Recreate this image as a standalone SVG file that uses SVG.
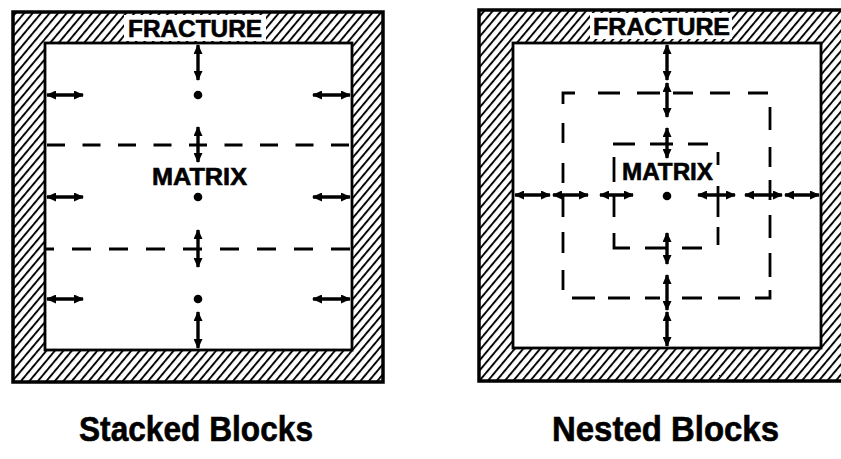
<svg xmlns="http://www.w3.org/2000/svg" width="841" height="459" viewBox="0 0 841 459">
<style>
.t{font-family:"Liberation Sans",Arial,Helvetica,sans-serif;font-weight:bold;fill:#000;stroke:#000;stroke-width:0.6;text-anchor:middle}
.outer{fill:url(#hatch);stroke:#000;stroke-width:3.5}
.inner{fill:#fff;stroke:#000;stroke-width:2.8}
.dash{fill:none;stroke:#000;stroke-width:2.8}
.arr{fill:none;stroke:#000;stroke-width:3.4;marker-start:url(#ah);marker-end:url(#ah)}
.dot{fill:#000}
</style>
<defs>
<pattern id="hatch" width="6.5" height="6.5" patternUnits="userSpaceOnUse" patternTransform="rotate(40)">
<line x1="1" y1="0" x2="1" y2="6.5" stroke="#000" stroke-width="1.9"/>
</pattern>
<marker id="ah" viewBox="0 0 10 9" refX="9" refY="4.5" markerWidth="10" markerHeight="9" markerUnits="userSpaceOnUse" orient="auto-start-reverse">
<path d="M0,0 L10,4.5 L0,9 z" fill="#000"/>
</marker>
</defs>
<rect width="841" height="459" fill="#fff"/>

<g id="stacked-blocks">
<rect class="outer" x="13" y="12" width="370" height="370"/>
<rect class="inner" x="45" y="43" width="307" height="307"/>
<rect x="124" y="15" width="142" height="26" fill="#fff"/>
<text class="t" x="195" y="37" font-size="24" textLength="134" lengthAdjust="spacingAndGlyphs">FRACTURE</text>
<line class="dash" x1="45" y1="145" x2="352" y2="145" stroke-dasharray="18 17.5" stroke-dashoffset="33.5"/>
<line class="dash" x1="45" y1="249" x2="352" y2="249" stroke-dasharray="19 18" stroke-dashoffset="10"/>
<text class="t" x="199.5" y="185" font-size="24" textLength="95" lengthAdjust="spacingAndGlyphs">MATRIX</text>
<circle class="dot" cx="198" cy="95" r="4.3"/>
<circle class="dot" cx="198" cy="197" r="4.3"/>
<circle class="dot" cx="198" cy="299" r="4.3"/>
</g>

<g id="nested-blocks">
<rect class="outer" x="479" y="10" width="374" height="371"/>
<rect class="inner" x="513" y="43" width="308" height="305"/>
<rect x="590" y="13" width="142" height="26" fill="#fff"/>
<text class="t" x="661.5" y="35" font-size="24" textLength="137" lengthAdjust="spacingAndGlyphs">FRACTURE</text>
<path class="dash" d="M563,104 V93 H575 M598,93 H620 M637,93 H660 M673,93 H693 M710,93 H730 M748,93 H768
M563,123 V143 M563,163 V183 M563,196 V217 M563,232 V253 M563,270 V290
M572,298 H595 M608,298 H630 M645,298 H660 M682,298 H702 M718,298 H740 M755,298 H770 V290
M770,107 V130 M770,147 V167 M770,180 V200 M770,215 V238 M770,253 V277"/>
<path class="dash" d="M613,144 H635 M650,144 H673 M688,144 H708
M614,157 V182 M614,196 V217 M614,233 V248 H630
M645,248 H667 M682,248 H702
M718,152 V165 M718,186 V217 M718,227 V245"/>
<text class="t" x="667.5" y="180" font-size="24" textLength="91" lengthAdjust="spacingAndGlyphs">MATRIX</text>
<circle class="dot" cx="667" cy="196" r="4.3"/>
</g>

<g id="connectors">
<line class="arr" x1="47" y1="95" x2="83" y2="95"/>
<line class="arr" x1="313" y1="95" x2="350" y2="95"/>
<line class="arr" x1="47" y1="197" x2="83" y2="197"/>
<line class="arr" x1="313" y1="197" x2="350" y2="197"/>
<line class="arr" x1="47" y1="299" x2="83" y2="299"/>
<line class="arr" x1="313" y1="299" x2="350" y2="299"/>
<line class="arr" x1="198" y1="45" x2="198" y2="80"/>
<line class="arr" x1="198" y1="127" x2="198" y2="162"/>
<line class="arr" x1="198" y1="230" x2="198" y2="267"/>
<line class="arr" x1="198" y1="312" x2="198" y2="348"/>

<line class="arr" x1="515" y1="195" x2="550" y2="195"/>
<line class="arr" x1="553" y1="195" x2="588" y2="195"/>
<line class="arr" x1="600" y1="195" x2="633" y2="195"/>
<line class="arr" x1="698" y1="195" x2="735" y2="195"/>
<line class="arr" x1="745" y1="195" x2="782" y2="195"/>
<line class="arr" x1="785" y1="195" x2="819" y2="195"/>
<line class="arr" x1="667" y1="45" x2="667" y2="80"/>
<line class="arr" x1="667" y1="83" x2="667" y2="117"/>
<line class="arr" x1="667" y1="128" x2="667" y2="158"/>
<line class="arr" x1="667" y1="233" x2="667" y2="264"/>
<line class="arr" x1="667" y1="275" x2="667" y2="310"/>
<line class="arr" x1="667" y1="312" x2="667" y2="346"/>
</g>

<g id="captions">
<text class="t" x="196" y="441" font-size="35" textLength="234" lengthAdjust="spacingAndGlyphs">Stacked Blocks</text>
<text class="t" x="665.5" y="441" font-size="35" textLength="227" lengthAdjust="spacingAndGlyphs">Nested Blocks</text>
</g>
</svg>
